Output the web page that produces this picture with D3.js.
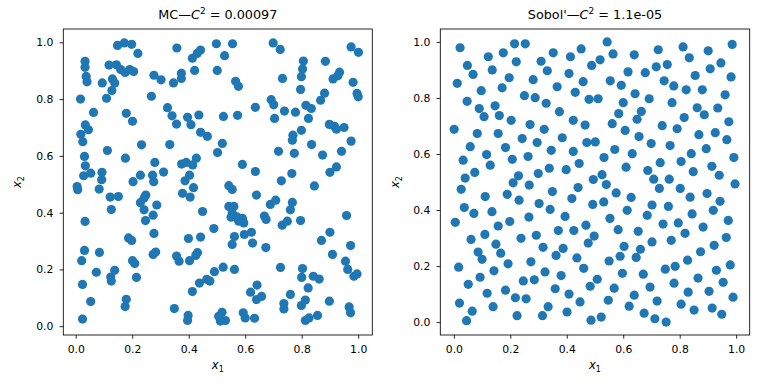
<!DOCTYPE html>
<html>
<head>
<meta charset="utf-8">
<script src="https://cdn.jsdelivr.net/npm/d3@7"></script>
<style>
  body { margin: 0; background: #fff; }
  svg { display: block; }
</style>
</head>
<body>
<div id="chart"></div>
<script>
// sample points, [x1, x2]
var mcPoints = [
  [0.148,0.989],[0.172,0.998],[0.198,0.993],[0.220,0.961],[0.358,0.980],[0.442,0.973],[0.430,0.961],[0.413,0.944],[0.498,0.995],[0.033,0.933],
  [0.033,0.912],[0.118,0.920],[0.144,0.921],[0.159,0.904],[0.175,0.894],[0.191,0.904],[0.205,0.897],[0.037,0.880],[0.040,0.861],[0.094,0.857],
  [0.130,0.871],[0.138,0.857],[0.128,0.830],[0.109,0.803],[0.017,0.800],[0.277,0.884],[0.302,0.868],[0.346,0.857],[0.374,0.891],[0.374,0.873],
  [0.421,0.901],[0.501,0.901],[0.268,0.810],[0.063,0.753],[0.179,0.750],[0.201,0.722],[0.325,0.770],[0.341,0.741],[0.357,0.712],[0.396,0.736],
  [0.408,0.710],[0.436,0.744],[0.442,0.683],[0.466,0.669],[0.034,0.709],[0.045,0.692],[0.018,0.676],[0.025,0.650],[0.233,0.639],[0.333,0.640],
  [0.112,0.619],[0.176,0.592],[0.031,0.598],[0.034,0.565],[0.053,0.539],[0.028,0.530],[0.093,0.542],[0.092,0.516],[0.280,0.577],[0.229,0.532],
  [0.272,0.532],[0.311,0.543],[0.375,0.571],[0.391,0.577],[0.414,0.568],[0.427,0.592],[0.403,0.532],[0.387,0.512],[0.203,0.509],[0.276,0.509],
  [0.502,0.612],
  [0.555,0.995],[0.527,0.953],[0.566,0.863],[0.576,0.845],[0.699,0.998],[0.724,0.975],[0.975,0.984],[1.001,0.965],[0.806,0.934],[0.803,0.906],
  [0.799,0.879],[0.884,0.933],[0.934,0.895],[0.928,0.882],[0.911,0.871],[0.732,0.873],[0.796,0.834],[0.982,0.859],[0.996,0.820],[1.000,0.808],
  [0.881,0.821],[0.867,0.796],[0.692,0.798],[0.701,0.780],[0.636,0.771],[0.739,0.758],[0.778,0.754],[0.815,0.778],[0.834,0.767],[0.704,0.732],
  [0.824,0.732],[0.523,0.739],[0.573,0.743],[0.799,0.690],[0.769,0.673],[0.767,0.655],[0.898,0.711],[0.916,0.704],[0.923,0.694],[0.950,0.700],
  [0.975,0.652],[0.519,0.644],[0.835,0.640],[0.718,0.616],[0.774,0.609],[0.874,0.603],[0.941,0.616],[0.590,0.570],[0.636,0.545],[0.765,0.538],
  [0.728,0.512],[0.923,0.561],[0.900,0.542],
  [0.005,0.492],[0.007,0.481],[0.083,0.483],[0.122,0.455],[0.151,0.457],[0.126,0.411],[0.248,0.462],[0.242,0.452],[0.229,0.435],[0.242,0.410],
  [0.287,0.427],[0.274,0.391],[0.247,0.372],[0.033,0.369],[0.378,0.468],[0.417,0.488],[0.405,0.455],[0.449,0.404],[0.489,0.344],[0.187,0.311],
  [0.198,0.302],[0.277,0.327],[0.399,0.309],[0.442,0.314],[0.031,0.267],[0.021,0.231],[0.084,0.260],[0.274,0.253],[0.283,0.261],[0.357,0.247],
  [0.366,0.229],[0.403,0.231],[0.425,0.249],[0.431,0.259],[0.201,0.231],[0.209,0.221],[0.073,0.190],[0.138,0.197],[0.124,0.173],[0.126,0.159],
  [0.215,0.172],[0.024,0.147],[0.053,0.087],[0.179,0.095],[0.175,0.069],[0.024,0.025],[0.349,0.062],[0.398,0.038],[0.396,0.020],[0.438,0.152],
  [0.464,0.165],[0.475,0.159],[0.413,0.122],[0.491,0.192],
  [0.542,0.495],[0.554,0.482],[0.845,0.494],[0.640,0.462],[0.689,0.429],[0.708,0.444],[0.767,0.436],[0.760,0.410],[0.542,0.422],[0.560,0.422],
  [0.554,0.400],[0.550,0.384],[0.571,0.385],[0.590,0.380],[0.595,0.364],[0.577,0.370],[0.668,0.388],[0.674,0.376],[0.731,0.356],[0.749,0.370],
  [0.796,0.372],[0.959,0.390],[0.900,0.331],[0.870,0.302],[0.597,0.323],[0.622,0.331],[0.562,0.316],[0.554,0.288],[0.626,0.293],[0.673,0.277],
  [0.973,0.284],[0.909,0.253],[0.955,0.229],[0.963,0.200],[0.985,0.176],[0.996,0.184],[0.522,0.208],[0.562,0.200],[0.725,0.207],[0.803,0.203],
  [0.800,0.172],[0.841,0.176],[0.862,0.166],[0.823,0.135],[0.642,0.145],[0.619,0.120],[0.640,0.094],[0.658,0.105],[0.760,0.112],[0.737,0.080],
  [0.737,0.061],[0.813,0.092],[0.799,0.073],[0.898,0.088],[0.968,0.068],[0.973,0.047],[0.518,0.049],[0.506,0.035],[0.530,0.020],[0.512,0.018],
  [0.593,0.047],[0.600,0.029],[0.633,0.028],[0.813,0.020],[0.826,0.029],[0.856,0.038]
];

var sobolPoints = [
  [0.022,0.979],[0.215,0.993],[0.253,0.993],[0.122,0.947],[0.175,0.961],[0.221,0.929],[0.048,0.916],[0.068,0.884],[0.136,0.900],[0.012,0.852],
  [0.097,0.826],[0.196,0.872],[0.171,0.836],[0.281,0.865],[0.309,0.931],[0.352,0.961],[0.331,0.897],[0.413,0.947],[0.451,0.975],[0.488,0.916],
  [0.408,0.887],[0.458,0.858],[0.366,0.840],[0.430,0.820],[0.479,0.795],[0.250,0.808],[0.288,0.801],[0.327,0.781],[0.047,0.788],[0.090,0.762],
  [0.146,0.772],[0.107,0.733],[0.161,0.737],[0.203,0.720],[0.374,0.751],[0.423,0.720],[0.465,0.703],[0.001,0.688],[0.083,0.673],[0.157,0.673],
  [0.270,0.705],[0.320,0.688],[0.242,0.655],[0.295,0.641],[0.384,0.658],[0.471,0.641],[0.501,0.643],[0.058,0.626],[0.116,0.598],[0.183,0.623],
  [0.345,0.613],[0.423,0.609],[0.033,0.578],[0.129,0.560],[0.207,0.581],[0.263,0.591],[0.074,0.534],[0.040,0.514],[0.229,0.522],[0.299,0.530],
  [0.338,0.549],[0.398,0.544],[0.444,0.566],[0.494,0.509],
  [0.543,1.000],[0.564,0.957],[0.518,0.936],[0.639,0.954],[0.724,0.972],[0.812,0.982],[0.834,0.943],[0.901,0.968],[0.986,0.991],[0.946,0.925],
  [0.908,0.904],[0.855,0.880],[0.982,0.875],[0.756,0.919],[0.717,0.911],[0.678,0.890],[0.617,0.893],[0.554,0.861],[0.593,0.845],[0.745,0.861],
  [0.779,0.843],[0.823,0.829],[0.880,0.829],[0.961,0.811],[0.511,0.797],[0.642,0.815],[0.692,0.797],[0.600,0.783],[0.773,0.783],[0.862,0.765],
  [0.887,0.740],[0.935,0.764],[0.664,0.752],[0.649,0.724],[0.584,0.744],[0.561,0.708],[0.816,0.730],[0.738,0.701],[0.791,0.690],[0.974,0.715],
  [0.607,0.684],[0.656,0.662],[0.868,0.669],[0.926,0.676],[0.967,0.651],[0.699,0.637],[0.766,0.630],[0.570,0.616],[0.632,0.601],[0.841,0.601],
  [0.894,0.619],[0.532,0.587],[0.992,0.587],[0.731,0.569],[0.805,0.573],[0.610,0.553],[0.687,0.541],[0.914,0.556],[0.848,0.537],[0.940,0.524],
  [0.525,0.526],[0.708,0.510],[0.763,0.510],
  [0.026,0.474],[0.210,0.497],[0.267,0.489],[0.111,0.448],[0.189,0.456],[0.231,0.435],[0.349,0.466],[0.440,0.480],[0.418,0.441],[0.492,0.420],
  [0.302,0.423],[0.341,0.402],[0.037,0.409],[0.071,0.388],[0.135,0.394],[0.266,0.375],[0.394,0.377],[0.005,0.356],[0.198,0.359],[0.157,0.343],
  [0.468,0.346],[0.370,0.327],[0.425,0.327],[0.292,0.310],[0.497,0.307],[0.476,0.282],[0.061,0.295],[0.110,0.313],[0.238,0.299],[0.149,0.278],
  [0.316,0.267],[0.387,0.263],[0.362,0.238],[0.086,0.250],[0.100,0.224],[0.166,0.246],[0.436,0.229],[0.017,0.196],[0.192,0.208],[0.273,0.215],
  [0.460,0.192],[0.142,0.183],[0.323,0.179],[0.380,0.166],[0.093,0.160],[0.246,0.147],[0.285,0.151],[0.051,0.135],[0.483,0.128],[0.183,0.114],
  [0.359,0.119],[0.118,0.103],[0.218,0.087],[0.256,0.083],[0.408,0.100],[0.447,0.072],[0.020,0.068],[0.139,0.055],[0.334,0.055],[0.065,0.039],
  [0.401,0.036],[0.045,0.005],[0.224,0.023],[0.314,0.023],[0.486,0.007],
  [0.540,0.491],[0.728,0.477],[0.802,0.477],[0.575,0.461],[0.628,0.445],[0.531,0.429],[0.996,0.493],[0.837,0.446],[0.897,0.459],[0.943,0.431],
  [0.919,0.399],[0.702,0.418],[0.760,0.413],[0.614,0.399],[0.685,0.381],[0.844,0.386],[0.553,0.370],[0.582,0.330],[0.653,0.324],[0.741,0.350],
  [0.795,0.354],[0.819,0.317],[0.883,0.339],[0.972,0.363],[0.965,0.302],[0.922,0.274],[0.770,0.292],[0.702,0.286],[0.603,0.270],[0.661,0.260],
  [0.646,0.231],[0.589,0.235],[0.550,0.218],[0.874,0.251],[0.828,0.221],[0.784,0.199],[0.749,0.189],[0.671,0.171],[0.597,0.174],[0.979,0.204],
  [0.930,0.185],[0.508,0.153],[0.865,0.157],[0.780,0.139],[0.695,0.125],[0.568,0.121],[0.954,0.142],[0.904,0.110],[0.830,0.107],[0.989,0.089],
  [0.639,0.096],[0.720,0.075],[0.547,0.078],[0.621,0.057],[0.805,0.064],[0.851,0.043],[0.915,0.050],[0.949,0.028],[0.674,0.032],[0.712,0.012],
  [0.752,0.000],[0.522,0.018]
];

var mcXLim = [-0.044, 1.050], mcYLim = [-0.031, 1.047];
var sobolXLim = [-0.048, 1.048], sobolYLim = [-0.046, 1.046];
var tickValues = [0, 0.2, 0.4, 0.6, 0.8, 1.0];
var mcTitle = ["MC\u2014", "C", "2", " = 0.00097"];
var sobolTitle = ["Sobol'\u2014", "C", "2", " = 1.1e-05"];

var width = 768, height = 384;
var plotTop = 29, plotBottom = 335;
var font = "'DejaVu Sans', sans-serif";

var svg = d3.select("#chart").append("svg")
  .attr("width", width)
  .attr("height", height);

function drawPanel(left, right, xLim, yLim, points, title, ylabelX) {
  var x = d3.scaleLinear().domain(xLim).range([left, right]);
  var y = d3.scaleLinear().domain(yLim).range([plotBottom, plotTop]);
  var g = svg.append("g");

  g.selectAll("circle")
    .data(points)
    .enter()
    .append("circle")
    .attr("cx", function(d) { return x(d[0]); })
    .attr("cy", function(d) { return y(d[1]); })
    .attr("r", 4.6)
    .attr("fill", "#1f77b4");

  var xAxis = g.append("g")
    .attr("transform", "translate(0," + plotBottom + ")")
    .call(d3.axisBottom(x).tickValues(tickValues).tickFormat(d3.format(".1f")).tickSize(3.7).tickPadding(7));
  var yAxis = g.append("g")
    .attr("transform", "translate(" + left + ",0)")
    .call(d3.axisLeft(y).tickValues(tickValues).tickFormat(d3.format(".1f")).tickSize(3.7).tickPadding(6.3));

  [xAxis, yAxis].forEach(function(a) {
    a.select(".domain").remove();
    a.attr("font-family", font).attr("font-size", 10.8);
    a.selectAll("line").attr("stroke", "#000").attr("stroke-width", 0.85);
    a.selectAll("text").attr("fill", "#000");
  });

  g.append("rect")
    .attr("x", left)
    .attr("y", plotTop)
    .attr("width", right - left)
    .attr("height", plotBottom - plotTop)
    .attr("fill", "none")
    .attr("stroke", "#000")
    .attr("stroke-width", 0.85);

  var cx = (left + right) / 2;

  var t = g.append("text")
    .attr("x", cx)
    .attr("y", 19)
    .attr("text-anchor", "middle")
    .attr("font-family", font)
    .attr("font-size", 12.8)
    .attr("fill", "#000");
  t.append("tspan").text(title[0]);
  t.append("tspan").attr("font-style", "italic").text(title[1]);
  t.append("tspan").attr("font-size", 9).attr("dy", -5).text(title[2]);
  t.append("tspan").attr("dy", 5).text(title[3]);

  var xl = g.append("text")
    .attr("x", cx)
    .attr("y", 369)
    .attr("text-anchor", "middle")
    .attr("font-family", font)
    .attr("font-size", 11.5)
    .attr("fill", "#000");
  xl.append("tspan").attr("font-style", "italic").text("x");
  xl.append("tspan").attr("font-size", 8).attr("dy", 2.5).text("1");

  var yl = g.append("text")
    .attr("transform", "translate(" + ylabelX + "," + ((plotTop + plotBottom) / 2) + ") rotate(-90)")
    .attr("text-anchor", "middle")
    .attr("font-family", font)
    .attr("font-size", 11.5)
    .attr("fill", "#000");
  yl.append("tspan").attr("font-style", "italic").text("x");
  yl.append("tspan").attr("font-size", 8).attr("dy", 2.5).text("2");
}

drawPanel(63.3, 372.3, mcXLim, mcYLim, mcPoints, mcTitle, 21);
drawPanel(440.3, 749.7, sobolXLim, sobolYLim, sobolPoints, sobolTitle, 399);
</script>
</body>
</html>
